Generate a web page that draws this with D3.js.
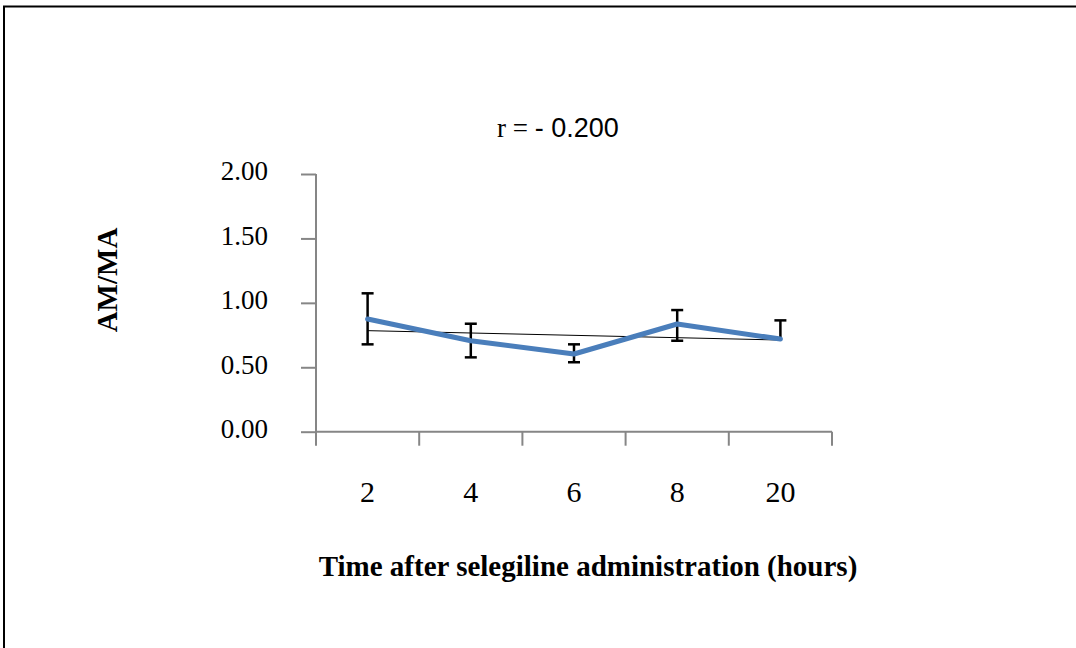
<!DOCTYPE html>
<html>
<head>
<meta charset="utf-8">
<script src="https://cdn.jsdelivr.net/npm/d3@7"></script>
<style>
  body { margin: 0; background: #fff; }
  .serif { font-family: "Liberation Serif", "Times New Roman", serif; }
  .sans { font-family: "Liberation Sans", Arial, sans-serif; }
</style>
</head>
<body>
<div id="chart"></div>
<script>
var hours = ["2", "4", "6", "8", "20"];
var means = [0.875, 0.706, 0.603, 0.836, 0.719];
var errHigh = [1.074, 0.838, 0.678, 0.944, 0.864];
var errLow = [0.678, 0.577, 0.539, 0.706, 0.719];
var yTicks = [0, 0.5, 1, 1.5, 2];
var titleLead = "r = ";
var titleValue = "- 0.200";
var yTitle = "AM/MA";
var xTitle = "Time after selegiline administration (hours)";

var W = 1076, H = 648;
var axisColor = "#868686";

var svg = d3.select("#chart").append("svg")
    .attr("width", W)
    .attr("height", H)
    .style("display", "block");

// picture frame (top and left only)
svg.append("line").attr("x1", 3).attr("x2", W).attr("y1", 6.5).attr("y2", 6.5)
    .attr("stroke", "#000").attr("stroke-width", 2);
svg.append("line").attr("x1", 4).attr("x2", 4).attr("y1", 6).attr("y2", H)
    .attr("stroke", "#000").attr("stroke-width", 2);

var x = d3.scaleBand().domain(hours).range([316, 832]);
var y = d3.scaleLinear().domain([0, 2]).range([431.7, 174]);

// y axis
var yAxis = d3.axisLeft(y).tickValues(yTicks).tickSize(15).tickPadding(33)
    .tickFormat(d3.format(".2f"));
var gy = svg.append("g").attr("transform", "translate(316,0)").call(yAxis);
gy.select(".domain").attr("stroke", axisColor).attr("stroke-width", 2)
    .attr("d", "M0," + y(2) + "V" + (y(0) + 14));
gy.selectAll(".tick line").attr("stroke", axisColor).attr("stroke-width", 2);
gy.selectAll(".tick text").attr("class", "serif").attr("font-size", 27)
    .attr("dy", "0.22em")
    .attr("fill", "#000");

// x axis
svg.append("line").attr("x1", 316).attr("x2", 832).attr("y1", y(0)).attr("y2", y(0))
    .attr("stroke", axisColor).attr("stroke-width", 2);
var bounds = d3.range(hours.length + 1).map(function(i) { return 316 + i * x.step(); });
svg.selectAll(".xtick").data(bounds.slice(1)).enter().append("line")
    .attr("x1", function(d) { return d; }).attr("x2", function(d) { return d; })
    .attr("y1", y(0)).attr("y2", y(0) + 14)
    .attr("stroke", axisColor).attr("stroke-width", 2);
svg.selectAll(".xlabel").data(hours).enter().append("text")
    .attr("class", "serif")
    .attr("x", function(d) { return x(d) + x.bandwidth() / 2; })
    .attr("y", 502)
    .attr("text-anchor", "middle")
    .attr("font-size", 30)
    .text(function(d) { return d; });

// linear trend from the means
var n = means.length;
var xm = d3.mean(d3.range(n), function(i) { return i; });
var ym = d3.mean(means);
var slope = d3.sum(d3.range(n), function(i) { return (i - xm) * (means[i] - ym); }) /
    d3.sum(d3.range(n), function(i) { return (i - xm) * (i - xm); });
var trend = function(i) { return ym + slope * (i - xm); };
svg.append("line")
    .attr("x1", x(hours[0]) + x.bandwidth() / 2).attr("y1", y(trend(0)))
    .attr("x2", x(hours[n - 1]) + x.bandwidth() / 2).attr("y2", y(trend(n - 1)))
    .attr("stroke", "#000").attr("stroke-width", 1);

// error bars
var pts = hours.map(function(h, i) {
    return { h: h, v: means[i], hi: errHigh[i], lo: errLow[i] };
});
var eb = svg.selectAll(".err").data(pts).enter().append("g")
    .attr("stroke", "#000").attr("stroke-width", 2.5);
eb.append("line")
    .attr("x1", function(d) { return x(d.h) + x.bandwidth() / 2; })
    .attr("x2", function(d) { return x(d.h) + x.bandwidth() / 2; })
    .attr("y1", function(d) { return y(d.hi); })
    .attr("y2", function(d) { return y(d.lo); });
eb.append("line")
    .attr("x1", function(d) { return x(d.h) + x.bandwidth() / 2 - 6; })
    .attr("x2", function(d) { return x(d.h) + x.bandwidth() / 2 + 6; })
    .attr("y1", function(d) { return y(d.hi); })
    .attr("y2", function(d) { return y(d.hi); });
eb.filter(function(d) { return d.lo < d.v; }).append("line")
    .attr("x1", function(d) { return x(d.h) + x.bandwidth() / 2 - 6; })
    .attr("x2", function(d) { return x(d.h) + x.bandwidth() / 2 + 6; })
    .attr("y1", function(d) { return y(d.lo); })
    .attr("y2", function(d) { return y(d.lo); });

// mean line
var line = d3.line()
    .x(function(d) { return x(d.h) + x.bandwidth() / 2; })
    .y(function(d) { return y(d.v); });
svg.append("path").datum(pts)
    .attr("d", line)
    .attr("fill", "none")
    .attr("stroke", "#4a7ebb")
    .attr("stroke-width", 5)
    .attr("stroke-linejoin", "round")
    .attr("stroke-linecap", "round");

// titles
var t = svg.append("text")
    .attr("x", 558).attr("y", 137)
    .attr("text-anchor", "middle")
    .attr("font-size", 27);
t.append("tspan").attr("class", "serif").text(titleLead);
t.append("tspan").attr("class", "sans").text(titleValue);

svg.append("text").attr("class", "serif")
    .attr("transform", "translate(117,280) rotate(-90)")
    .attr("text-anchor", "middle")
    .attr("font-size", 29)
    .attr("font-weight", "bold")
    .text(yTitle);

svg.append("text").attr("class", "serif")
    .attr("x", 588).attr("y", 576)
    .attr("text-anchor", "middle")
    .attr("font-size", 29)
    .attr("font-weight", "bold")
    .text(xTitle);
</script>
</body>
</html>
